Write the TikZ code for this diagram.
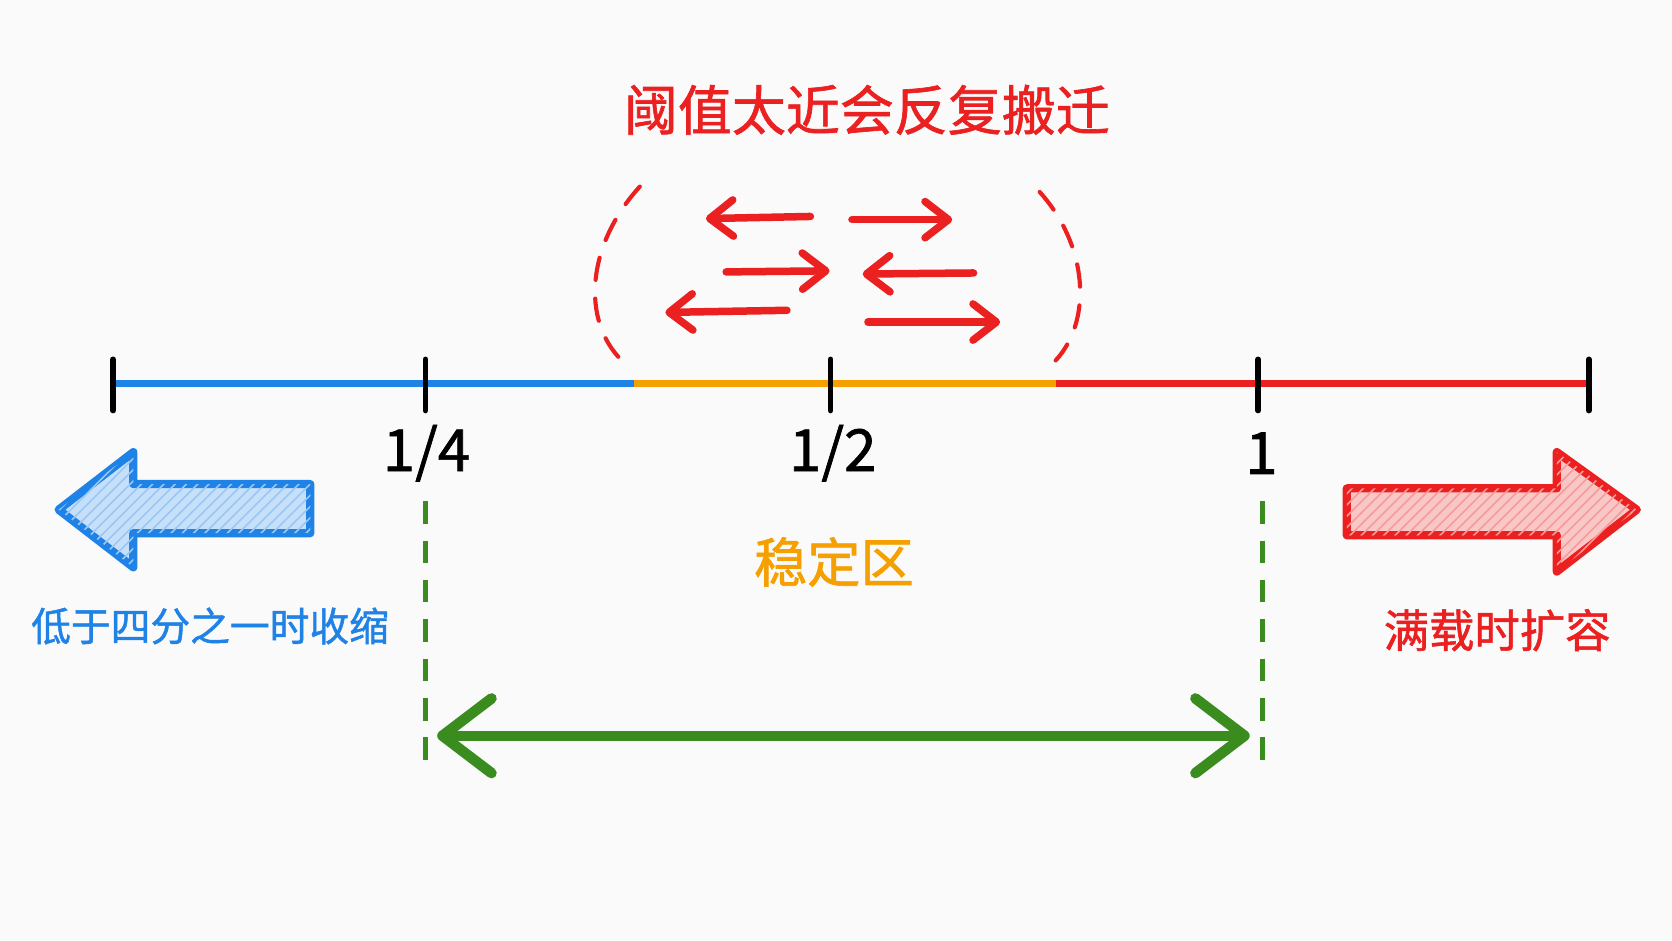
\documentclass[tikz,border=0pt]{standalone}
\usepackage{fontspec}
\setmainfont{Noto Sans CJK SC}[FakeBold=1.2]
\usetikzlibrary{arrows.meta,patterns}
\definecolor{paper}{RGB}{250,250,250}
\definecolor{axblue}{RGB}{30,130,230}
\definecolor{axorange}{RGB}{245,160,0}
\definecolor{axred}{RGB}{235,32,32}
\definecolor{axgreen}{RGB}{58,140,30}
\tikzstyle{tick}=[line width=1.5pt,black,line cap=round]
\tikzstyle{seg}=[line width=1.9pt]
\tikzstyle{num}=[font=\fontsize{15.5}{18}\selectfont,inner sep=0]
\tikzstyle{flip}=[axred,line width=2pt,line cap=round,-{Straight Barb[length=2.2mm,width=3.4mm,round]}]
\tikzstyle{zone}=[axred,line width=1.1pt,dash pattern=on 6pt off 5pt,line cap=round]
\tikzstyle{guide}=[axgreen,line width=1.2pt,dash pattern=on 6pt off 4.5pt]
\tikzstyle{span}=[axgreen,line width=2.8pt,{Straight Barb[length=4.6mm,width=7mm,round]}-{Straight Barb[length=4.6mm,width=7mm,round]}]
\tikzstyle{block}=[line width=2.2pt,line join=round]

\begin{document}
\begin{tikzpicture}[x=0.01cm,y=-0.01cm]
\fill[paper] (0,0) rectangle (1568,882);
\useasboundingbox (0,0) rectangle (1568,882);

% axis with three parts
\coordinate (a0) at (106,360);
\coordinate (c1) at (595,360);
\coordinate (c2) at (990,360);
\coordinate (a4) at (1490,360);
\draw[seg,axblue] (a0)--(c1);
\draw[seg,axorange] (c1)--(c2);
\draw[seg,axred] (c2)--(a4);
\foreach \x in {106,399,779,1180,1490}{
	\draw[tick] (\x,337)--(\x,385);}
\node[num] (quart) at (400,425) {1/4};
\node[num] (half) at (781,425) {1/2};
\node[num] (full) at (1183,425) {1};

% thrashing zone
\node[axred,font=\fontsize{14.4}{17}\selectfont] (title) at (813,103) {阈值太近会反复搬迁};
\draw[zone] (600,175) .. controls (550,230) and (545,300) .. (583,338);
\draw[zone] (975,180) .. controls (1020,230) and (1025,300) .. (990,338);
\foreach \xa/\ya/\xb/\yb in {760/203/662/205, 799/206/893/206, 681/255/778/254,
	913/256/809/257, 738/291/624/293, 814/302/938/302}{
	\draw[flip] (\xa,\ya)--(\xb,\yb);}

% shrink and grow
\draw[block,draw=axblue,fill=axblue!25,postaction={pattern=north east lines,pattern color=axblue!45}]
	(55,478)--(125,424)--(125,454)--(291,454)--(291,500)--(125,500)--(125,532)--cycle;
\node[axblue,font=\fontsize{10.6}{13}\selectfont] (shrink) at (197,587) {低于四分之一时收缩};
\draw[block,draw=axred,fill=axred!25,postaction={pattern=north east lines,pattern color=axred!45}]
	(1263,458)--(1460,458)--(1460,424)--(1535,478)--(1460,536)--(1460,502)--(1263,502)--cycle;
\node[axred,font=\fontsize{12.1}{15}\selectfont] (grow) at (1404,591) {满载时扩容};

% stable range
\node[axorange,font=\fontsize{14.2}{17}\selectfont] (stable) at (782,527) {稳定区};
\coordinate (g1) at (399,470);
\coordinate (g2) at (1184,470);
\draw[guide] (g1)--+(0,255);
\draw[guide] (g2)--+(0,255);
\coordinate (s1) at (410,690);
\coordinate (s2) at (1172,690);
\draw[span] (s1)--(s2);
\end{tikzpicture}
\end{document}
